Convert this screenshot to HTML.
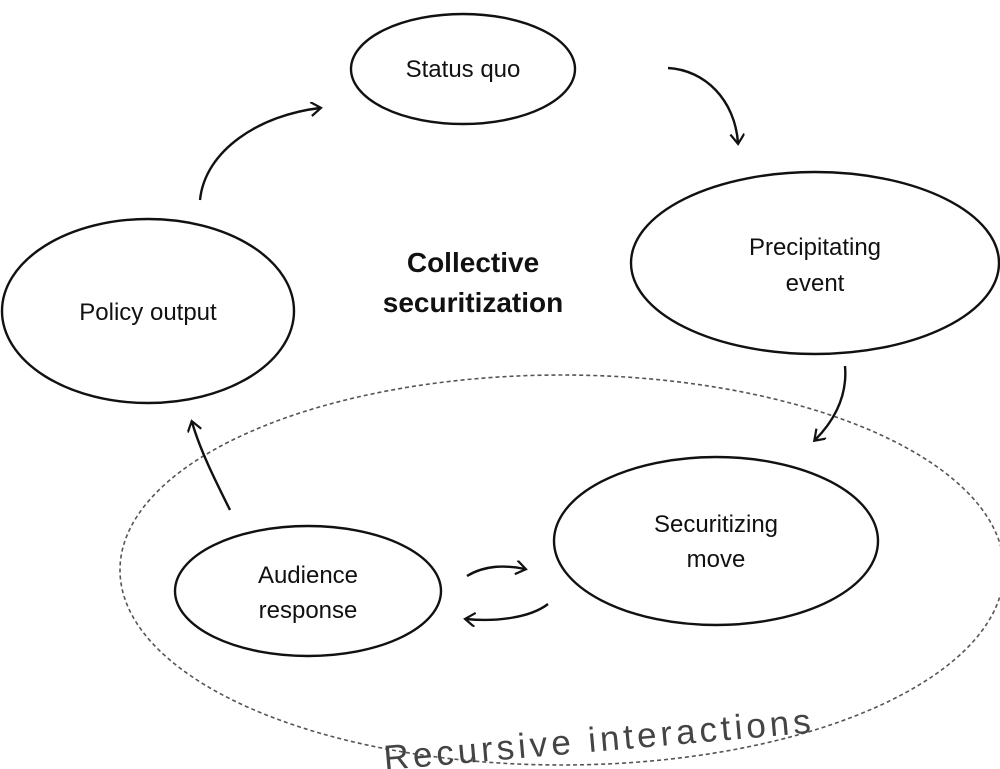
<!DOCTYPE html>
<html><head><meta charset="utf-8"><style>
html,body{margin:0;padding:0;background:#fff;}
svg{display:block;}
text{font-family:"Liberation Sans",sans-serif;fill:#111;}
</style></head><body>
<svg width="1000" height="769" viewBox="0 0 1000 769" xmlns="http://www.w3.org/2000/svg">
<defs>
<marker id="a" markerWidth="16" markerHeight="16" refX="10" refY="7" orient="auto" markerUnits="userSpaceOnUse">
<path d="M1,0 L11,7 L1,14" fill="none" stroke="#111" stroke-width="2.2"/>
</marker>
</defs>
<g fill="none" stroke="#111" stroke-width="2.4">
<ellipse cx="463" cy="69" rx="112" ry="55"/>
<ellipse cx="815" cy="263" rx="184" ry="91"/>
<ellipse cx="148" cy="311" rx="146" ry="92"/>
<ellipse cx="716" cy="541" rx="162" ry="84"/>
<ellipse cx="308" cy="591" rx="133" ry="65"/>
</g>
<ellipse cx="562" cy="570" rx="442" ry="195" fill="none" stroke="#555" stroke-width="1.6" stroke-dasharray="4,3"/>
<g fill="none" stroke="#111" stroke-width="2.4" marker-end="url(#a)">
<path d="M668,68 C705,70 735,100 738,143"/>
<path d="M845,366 C848,400 830,425 815,440"/>
<path d="M200,200 C205,150 260,115 320,108"/>
<path d="M230,510 C215,480 200,450 192,422"/>
<path d="M467,576 C485,565 505,565 525,569"/>
<path d="M548,604 C530,618 495,622 466,619"/>
</g>
<g font-size="24" text-anchor="middle">
<text x="463" y="77">Status quo</text>
<text x="815" y="255">Precipitating</text>
<text x="815" y="291">event</text>
<text x="148" y="320">Policy output</text>
<text x="716" y="532">Securitizing</text>
<text x="716" y="567">move</text>
<text x="308" y="583">Audience</text>
<text x="308" y="618">response</text>
</g>
<g font-size="28" font-weight="bold" text-anchor="middle">
<text x="473" y="272">Collective</text>
<text x="473" y="312">securitization</text>
</g>
<text x="382" y="752" font-size="35" transform="rotate(-5 590 730)" style="fill:#444" letter-spacing="4">Recursive  interactions</text>
</svg>
</body></html>
